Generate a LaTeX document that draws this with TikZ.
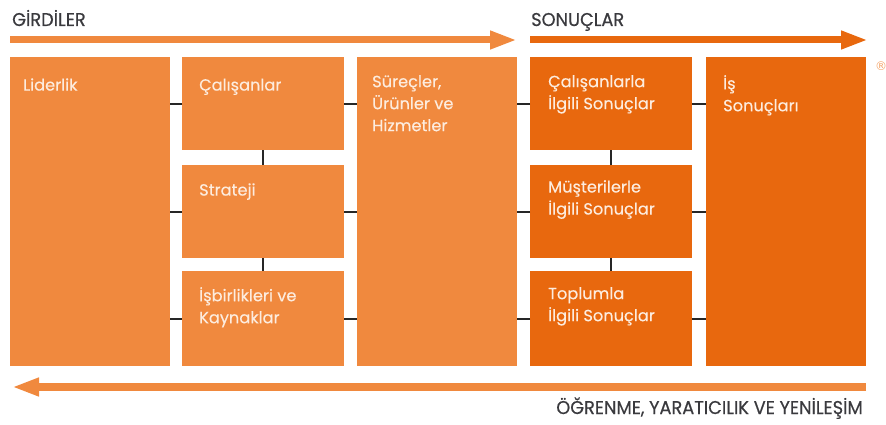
\documentclass[tikz,border=0pt]{standalone}
\usepackage{fontspec}
\setmainfont{Poppins}
\newfontfamily\symfont{DejaVu Sans}
\usetikzlibrary{arrows.meta}
\definecolor{lightor}{RGB}{240,137,62}
\definecolor{darkor}{RGB}{232,104,14}
\definecolor{cream}{RGB}{253,236,222}
\definecolor{headgray}{RGB}{58,58,62}
\begin{document}
\begin{tikzpicture}[x=1pt,y=-1pt,
  box/.style={fill=#1, draw=none, inner sep=0pt, anchor=north west},
  boxtext/.style={text=cream, anchor=north west, align=left, inner sep=0pt,
    font=\addfontfeature{FakeBold=0.3}\fontsize{16.2}{22}\selectfont,
    execute at begin node=\strut},
  head/.style={text=headgray, inner sep=0pt,
    font=\addfontfeature{FakeStretch=0.96,FakeBold=0.5}\fontsize{18.5}{22}\selectfont},
  link/.style={draw=black!85, line width=1.8pt},
  flow/.style={line width=7pt, -{Triangle[length=27pt,width=17pt]}}]
\useasboundingbox (0,0) rectangle (886,425);

% column 1
\node[box=lightor, minimum width=160pt, minimum height=309pt] (lid) at (10,57) {};
% column 2
\node[box=lightor, minimum width=162pt, minimum height=93pt] (cal) at (182,57) {};
\node[box=lightor, minimum width=162pt, minimum height=93pt] (str) at (182,165) {};
\node[box=lightor, minimum width=162pt, minimum height=95pt] (isb) at (182,271) {};
% column 3
\node[box=lightor, minimum width=160pt, minimum height=309pt] (sur) at (357,57) {};
% column 4
\node[box=darkor, minimum width=162pt, minimum height=93pt] (cs) at (530,57) {};
\node[box=darkor, minimum width=162pt, minimum height=93pt] (ms) at (530,165) {};
\node[box=darkor, minimum width=162pt, minimum height=95pt] (ts) at (530,271) {};
% column 5
\node[box=darkor, minimum width=160pt, minimum height=309pt] (is) at (706,57) {};

% box captions (first baseline about 33pt below the box top; strut height 15.4pt)
\node[boxtext] (lid-t) at ([shift={(13,18)}]lid.north west) {Liderlik};
\node[boxtext] (cal-t) at ([shift={(17,18)}]cal.north west) {Çalışanlar};
\node[boxtext] (str-t) at ([shift={(17,15)}]str.north west) {Strateji};
\node[boxtext] (isb-t) at ([shift={(17,16)}]isb.north west) {İşbirlikleri ve\\Kaynaklar};
\node[boxtext] (sur-t) at ([shift={(15,18)}]sur.north west) {Süreçler,\\Ürünler ve\\Hizmetler};
\node[boxtext] (cs-t) at ([shift={(18,18)}]cs.north west) {Çalışanlarla\\İlgili Sonuçlar};
\node[boxtext] (ms-t) at ([shift={(18,15)}]ms.north west) {Müşterilerle\\İlgili Sonuçlar};
\node[boxtext] (ts-t) at ([shift={(18,16)}]ts.north west) {Toplumla\\İlgili Sonuçlar};
\node[boxtext] (is-t) at ([shift={(17,18)}]is.north west) {İş\\Sonuçları};

% horizontal links
\foreach \b in {cal,str,isb} {
  \draw[link] (\b.west) -- (\b.west -| lid.east);
  \draw[link] (\b.east) -- (\b.east -| sur.west);
}
\foreach \b in {cs,ms,ts} {
  \draw[link] (\b.west) -- (\b.west -| sur.east);
  \draw[link] (\b.east) -- (\b.east -| is.west);
}
% vertical links
\draw[link] (cal.south) -- (str.north);
\draw[link] (str.south) -- (isb.north);
\draw[link] (cs.south) -- (ms.north);
\draw[link] (ms.south) -- (ts.north);

% flow arrows
\coordinate (in-a) at (10,40);
\coordinate (in-b) at (517,40);
\coordinate (out-a) at (530,40);
\coordinate (out-b) at (868,40);
\coordinate (back-a) at (866,387);
\coordinate (back-b) at (12,387);
\draw[flow, lightor] (in-a) -- (in-b);
\draw[flow, darkor] (out-a) -- (out-b);
\draw[flow, lightor, line width=8pt] (back-a) -- (back-b);

% headings
\node[head, anchor=base west] (girdi) at (12,26) {GİRDİLER};
\node[head, anchor=base west] (sonuc) at (531,26) {SONUÇLAR};
\node[head, anchor=base east] (ogren) at (863,414) {ÖĞRENME, YARATICILIK VE YENİLEŞİM};
\node[text=lightor!75, inner sep=0pt, font=\symfont\fontsize{12}{14}\selectfont] (reg) at (881,66) {®};
\end{tikzpicture}
\end{document}
